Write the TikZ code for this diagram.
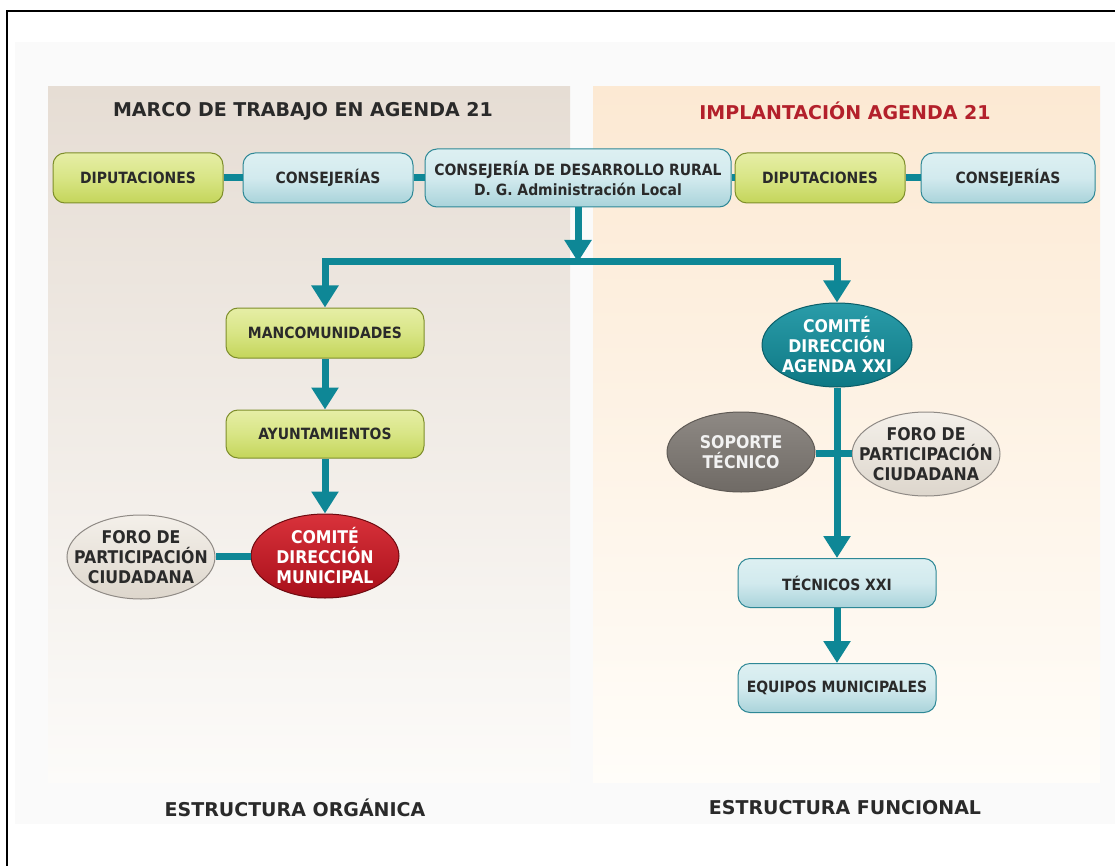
\documentclass[tikz,border=0pt]{standalone}
\usepackage{fontspec}
\setmainfont{DejaVu Sans}
\newfontfamily\cond{DejaVu Sans Condensed}
\usetikzlibrary{arrows.meta,shapes.geometric}
\definecolor{tealline}{HTML}{0E8796}
\definecolor{txt}{HTML}{2A2A2A}
\definecolor{redtitle}{HTML}{B3202B}
\definecolor{bgfaint}{HTML}{FAFAFA}
\definecolor{lpTop}{HTML}{E6DDD4}
\definecolor{lpBot}{HTML}{FCFBF9}
\definecolor{rpTop}{HTML}{FCE9D3}
\definecolor{rpBot}{HTML}{FFFDF9}
\definecolor{gTop}{HTML}{E6EEA6}
\definecolor{gMid}{HTML}{D8E585}
\definecolor{gBot}{HTML}{C4D55A}
\definecolor{gDraw}{HTML}{7E8E2A}
\definecolor{bTop}{HTML}{DDF0F2}
\definecolor{bMid}{HTML}{D2EAEE}
\definecolor{bBot}{HTML}{A9D3DA}
\definecolor{bDraw}{HTML}{2E8896}
\definecolor{rTop}{HTML}{D9323B}
\definecolor{rBot}{HTML}{A80F1A}
\definecolor{rDraw}{HTML}{6E0A10}
\definecolor{fTop}{HTML}{F4F0EA}
\definecolor{fBot}{HTML}{DDD6CC}
\definecolor{fDraw}{HTML}{8F8A85}
\definecolor{tTop}{HTML}{2A9CA9}
\definecolor{tBot}{HTML}{0E7884}
\definecolor{tDraw}{HTML}{0B5E68}
\definecolor{sTop}{HTML}{8E8984}
\definecolor{sBot}{HTML}{6F6A65}
\definecolor{sDraw}{HTML}{5F5A55}
\definecolor{sTxt}{HTML}{F2F2F2}
\tikzset{
  conn/.style={draw=tealline,line width=7pt},
  tip/.style={-{Triangle[width=26pt,length=22pt]}},
  greenbox/.style={draw=gDraw,line width=1pt,rounded corners=12pt,
    top color=gTop,bottom color=gBot,middle color=gMid,
    minimum width=170pt,minimum height=50pt,font=\cond\bfseries\fontsize{15.5}{17}\selectfont,text=txt},
  bluebox/.style={draw=bDraw,line width=1pt,rounded corners=12pt,
    top color=bTop,bottom color=bBot,middle color=bMid,
    minimum width=170pt,minimum height=50pt,font=\cond\bfseries\fontsize{15.5}{17}\selectfont,text=txt},
  ell/.style={ellipse,inner xsep=-16pt,inner ysep=0pt,minimum width=148pt,minimum height=84pt,align=center,
    font=\cond\bfseries\fontsize{17.5}{20}\selectfont,line width=1pt},
  title/.style={font=\bfseries\fontsize{19}{22}\selectfont,text=txt},
  foot/.style={font=\bfseries\fontsize{19}{22}\selectfont,text=txt}
}
\begin{document}
\begin{tikzpicture}[x=1pt,y=-1pt]
\useasboundingbox (0,0) rectangle (1115,866);
\fill[white] (0,0) rectangle (1115,866);
\fill[bgfaint] (15,42) rectangle (1115,824);
% panels
\shade[top color=lpTop,bottom color=lpBot] (48,87) rectangle (570,782);
\shade[top color=rpTop,bottom color=rpBot] (593,87) rectangle (1100,782);
% frame
\draw[black,line width=1.3pt] (7,866) -- (7,11) -- (1115,11);
% titles
\node[title] (t1) at (303,111) {MARCO DE TRABAJO EN AGENDA 21};
\node[title,text=redtitle] (t2) at (845,111) {IMPLANTACIÓN AGENDA 21};
\node[foot] (f1) at (295,808) {ESTRUCTURA ORGÁNICA};
\node[foot] (f2) at (845,808) {ESTRUCTURA FUNCIONAL};
% top row
\node[greenbox] (dip1) at (138,178) {DIPUTACIONES};
\node[bluebox] (cons1) at (328,178) {CONSEJERÍAS};
\node[bluebox,minimum width=306pt,minimum height=58pt,align=center,font=\cond\bfseries\fontsize{15.5}{20}\selectfont] (cdr) at (578,178) {CONSEJERÍA DE DESARROLLO RURAL\\D. G. Administración Local};
\node[greenbox] (dip2) at (820,178) {DIPUTACIONES};
\node[bluebox,minimum width=174pt] (cons2) at (1008,178) {CONSEJERÍAS};
\draw[conn] (dip1) -- (cons1);
\draw[conn] (cons1) -- (cdr);
\draw[conn] (cdr) -- (dip2);
\draw[conn] (dip2) -- (cons2);
% left column
\node[greenbox,minimum width=198pt] (manc) at (325,333) {MANCOMUNIDADES};
\node[greenbox,minimum width=198pt,minimum height=48pt] (ayun) at (325,434) {AYUNTAMIENTOS};
\node[ell,draw=rDraw,top color=rTop,bottom color=rBot,text=white] (cdm) at (325,556) {COMITÉ\\DIRECCIÓN\\MUNICIPAL};
\node[ell,draw=fDraw,top color=fTop,bottom color=fBot,text=txt] (foro1) at (141,557) {FORO DE\\PARTICIPACIÓN\\CIUDADANA};
% right column
\node[ell,minimum width=150pt,draw=tDraw,top color=tTop,bottom color=tBot,text=white] (cda) at (837,345) {COMITÉ\\DIRECCIÓN\\AGENDA XXI};
\node[ell,minimum width=148pt,minimum height=80pt,draw=sDraw,top color=sTop,bottom color=sBot,text=sTxt] (sop) at (741,452) {SOPORTE\\TÉCNICO};
\node[ell,draw=fDraw,top color=fTop,bottom color=fBot,text=txt] (foro2) at (926,454) {FORO DE\\PARTICIPACIÓN\\CIUDADANA};
\node[bluebox,minimum width=198pt,minimum height=49pt] (tec) at (837,583) {TÉCNICOS XXI};
\node[bluebox,minimum width=198pt,minimum height=49pt] (equ) at (837,688) {EQUIPOS MUNICIPALES};
% connectors
\coordinate (busC) at (578,262);
\draw[conn,tip] (cdr.south) -- (busC);
\draw[conn,tip] (busC) -| (manc.north);
\draw[conn,tip] (busC) -| (cda.north);
\draw[conn,tip] (manc) -- (ayun);
\draw[conn,tip] (ayun) -- (cdm);
\draw[conn] (foro1.east |- cdm) -- (cdm);
\draw[conn,tip] (cda) -- (tec);
\coordinate (cross) at (837,453);
\draw[conn] (sop.east |- cross) -- (cross) -- (foro2.west |- cross);
\draw[conn,tip] (tec) -- (equ);
\end{tikzpicture}
\end{document}
